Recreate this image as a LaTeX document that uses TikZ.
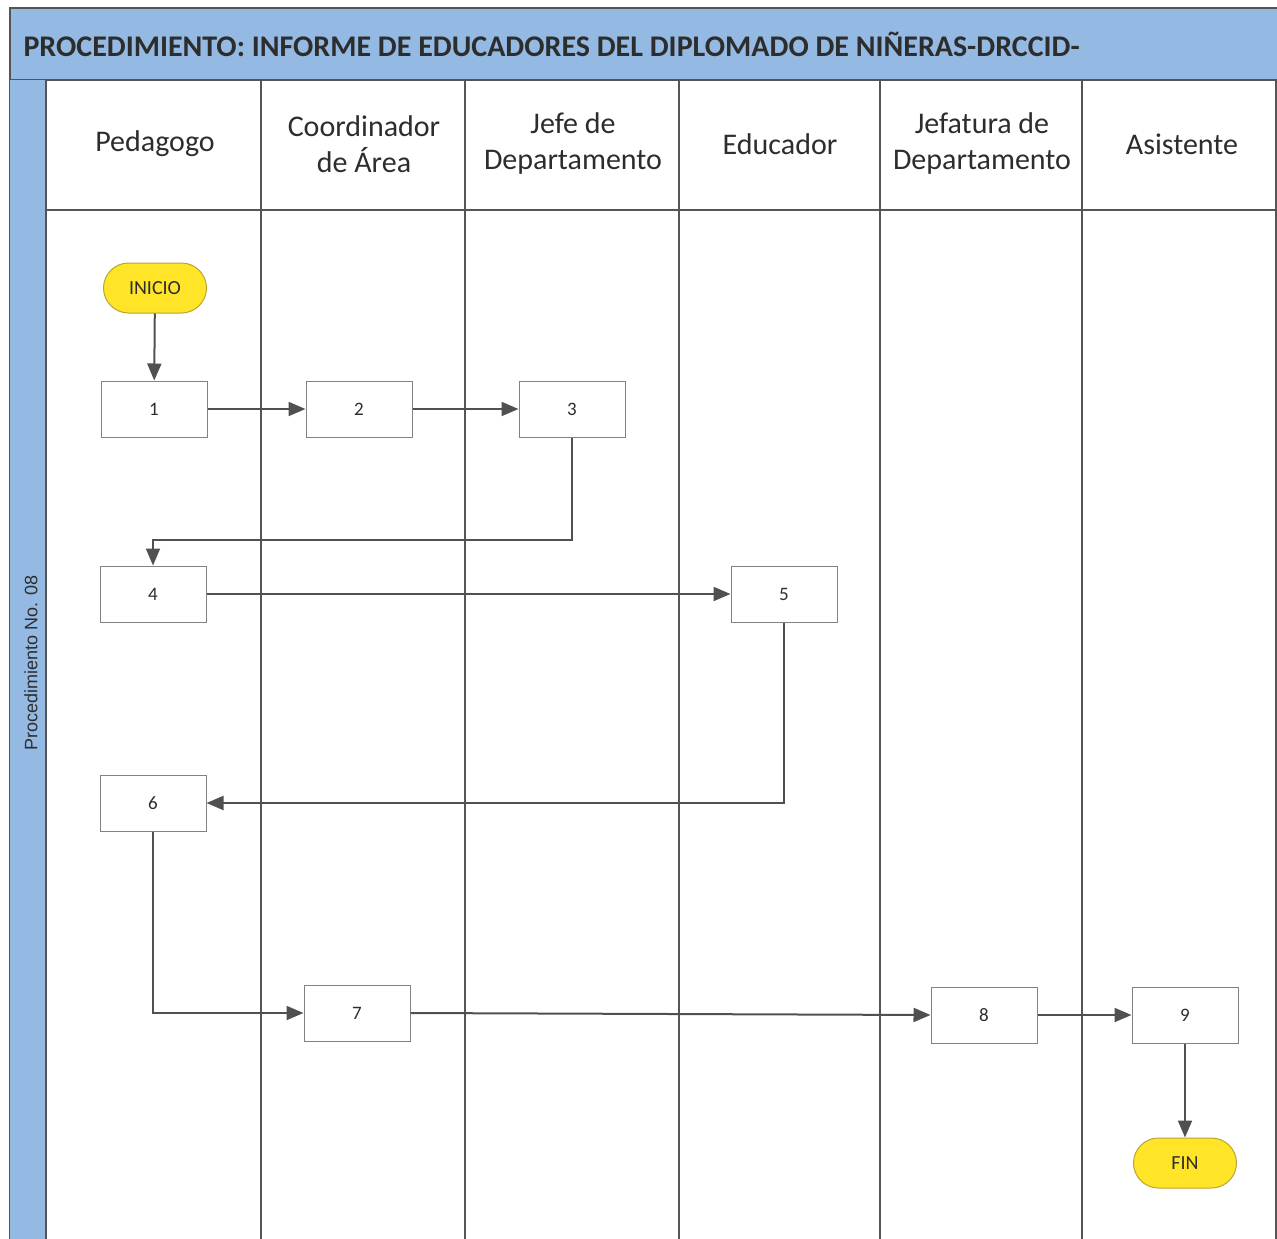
\documentclass[tikz,border=0pt]{standalone}
\usepackage{fontspec}
\setmainfont{Carlito}
\newfontfamily\arialf{Liberation Sans}
\usetikzlibrary{arrows.meta,shapes.misc}
\definecolor{lanblue}{RGB}{148,186,228}
\definecolor{framegray}{RGB}{85,85,85}
\definecolor{boxgray}{RGB}{130,130,130}
\definecolor{arrowgray}{RGB}{80,80,80}
\definecolor{termfill}{RGB}{255,228,40}
\definecolor{termdraw}{RGB}{185,165,50}
\definecolor{txtgray}{RGB}{45,45,45}
\tikzset{
  stepbox/.style={draw=boxgray, fill=white, line width=1pt, minimum width=106pt, minimum height=56pt, inner sep=0pt, text=txtgray, font=\fontsize{19}{21}\selectfont},
  term/.style={rounded rectangle, draw=termdraw, fill=termfill, line width=1pt, minimum width=103pt, minimum height=50pt, inner sep=0pt, text=txtgray, font=\fontsize{20}{22}\selectfont},
  flow/.style={draw=arrowgray, line width=2pt, -{Triangle[length=17pt,width=14pt]}},
  lane/.style={draw=framegray, line width=1.3pt},
  hdr/.style={align=center, text=txtgray, font=\fontsize{30}{36}\selectfont},
}
\begin{document}
\begin{tikzpicture}[x=1pt,y=-1pt]
\useasboundingbox (0,0) rectangle (1277,1239);
% title bar
\fill[lanblue] (10,8) rectangle (1277,80);
\draw[framegray, line width=1.5pt] (1277,8) -- (10,8) -- (10,1239);
\draw[framegray, line width=1.5pt] (10,80) -- (1277,80);
\node[anchor=west, text=txtgray, font=\bfseries\fontsize{30}{34}\selectfont] (title) at (20,44) {PROCEDIMIENTO: INFORME DE EDUCADORES DEL DIPLOMADO DE NIÑERAS-DRCCID-};
% left strip
\fill[lanblue] (10,80) rectangle (46,1239);
\draw[framegray, line width=1.5pt] (46,80) -- (46,1239);
\node[rotate=90, text=txtgray, font=\arialf\fontsize{18}{20}\selectfont] (proc) at (31,663) {Procedimiento No. 08};
% lanes
\foreach \x in {261,465,679,880,1082,1276} \draw[lane] (\x,80) -- (\x,1239);
\draw[lane] (46,210) -- (1277,210);
% headers
\node[hdr] (h1) at (155,144) {Pedagogo};
\node[hdr] (h2) at (364,144) {Coordinador\\de Área};
\node[hdr] (h3) at (573,144) {Jefe de\\Departamento};
\node[hdr] (h4) at (780,144) {Educador};
\node[hdr] (h5) at (982,144) {Jefatura de\\Departamento};
\node[hdr] (h6) at (1182,144) {Asistente};
% nodes
\node[term] (ini) at (155,288) {INICIO};
\node[stepbox] (n1) at (154,409) {1};
\node[stepbox] (n2) at (359,409) {2};
\node[stepbox] (n3) at (572,409) {3};
\node[stepbox] (n4) at (153,594) {4};
\node[stepbox] (n5) at (784,594) {5};
\node[stepbox] (n6) at (153,803) {6};
\node[stepbox] (n7) at (357,1013) {7};
\node[stepbox] (n8) at (984,1015) {8};
\node[stepbox] (n9) at (1185,1015) {9};
\node[term] (fin) at (1185,1163) {FIN};
% connectors
\draw[flow] (ini) -- (n1);
\draw[flow] (n1) -- (n2);
\draw[flow] (n2) -- (n3);
\draw[flow] (n3.south) |- (153,540) -- (n4.north);
\draw[flow] (n4) -- (n5);
\draw[flow] (n5.south) |- (n6.east);
\draw[flow] (n6.south) |- (n7.west);
\draw[flow] (n7.east) -- (n8.west);
\draw[flow] (n8) -- (n9);
\draw[flow] (n9) -- (fin);
\end{tikzpicture}
\end{document}
